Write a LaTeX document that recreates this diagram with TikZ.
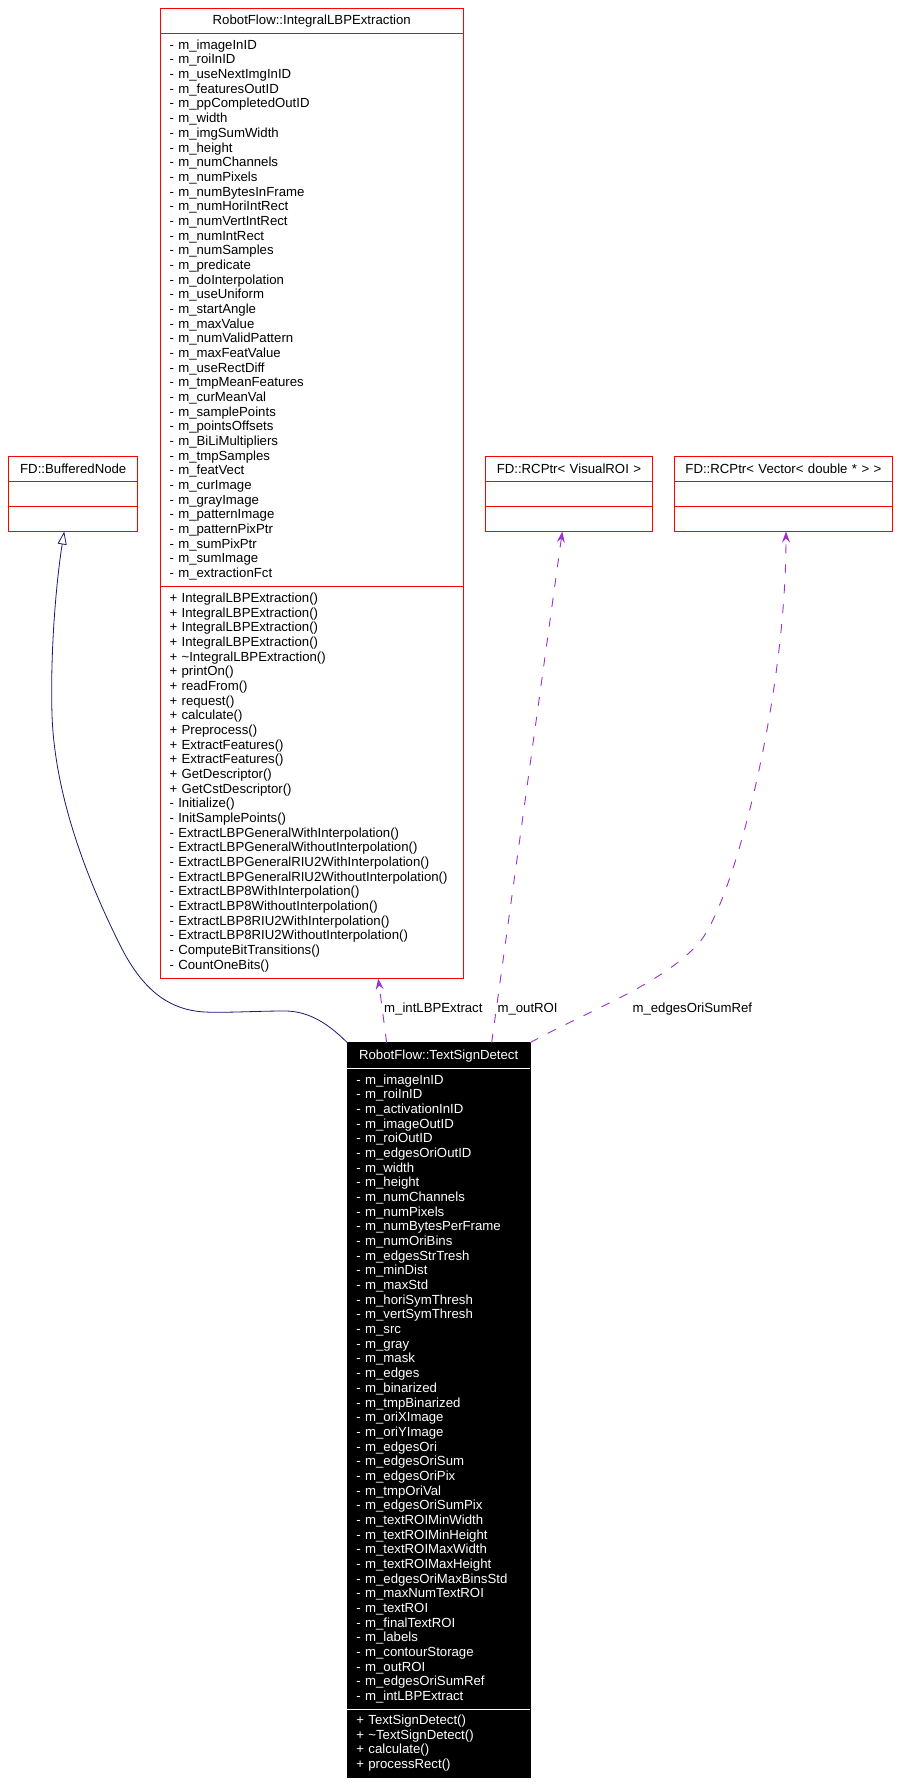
\documentclass[tikz,border=0pt]{standalone}
\usepackage{fontspec}
\setmainfont{Liberation Sans}
\usetikzlibrary{positioning,arrows.meta}
\definecolor{dep}{HTML}{9A32CD}
\definecolor{navy}{HTML}{191970}
\newcommand\umlfont{\fontsize{13.2}{14.67}\selectfont}
\begin{document}
\begin{tikzpicture}[x=1pt,y=-1pt,
	box/.style={draw=red,line width=0.8pt,fill=white,inner xsep=9pt,inner ysep=0pt,
		outer sep=0pt,text width=#1,font=\umlfont},
	hd/.style={box=#1,align=center,minimum height=25pt},
	bd/.style={box=#1,align=left},
	dk/.style={fill=black,draw=black,text=white},
	dep/.style={draw=dep,line width=0.9pt,dash pattern=on 9pt off 11pt,
		-{Stealth[length=11pt,width=8pt,inset=4pt]}},
	inh/.style={draw=navy,line width=0.8pt,
		-{Triangle[open,length=13pt,width=9pt,fill=white]}},
	lab/.style={font=\umlfont,inner sep=0pt,anchor=west}]
\path[fill=white,use as bounding box] (0,0) rectangle (911,1786);
% RobotFlow::IntegralLBPExtraction
\node[hd=284.5pt,anchor=north] (ilbp) at (311.75,8.4) {RobotFlow::IntegralLBPExtraction};
\node[bd=284.5pt,minimum height=553pt,below=0pt of ilbp] (ilbpA) {- m\_imageInID\\
	- m\_roiInID\\
	- m\_useNextImgInID\\
	- m\_featuresOutID\\
	- m\_ppCompletedOutID\\
	- m\_width\\
	- m\_imgSumWidth\\
	- m\_height\\
	- m\_numChannels\\
	- m\_numPixels\\
	- m\_numBytesInFrame\\
	- m\_numHoriIntRect\\
	- m\_numVertIntRect\\
	- m\_numIntRect\\
	- m\_numSamples\\
	- m\_predicate\\
	- m\_doInterpolation\\
	- m\_useUniform\\
	- m\_startAngle\\
	- m\_maxValue\\
	- m\_numValidPattern\\
	- m\_maxFeatValue\\
	- m\_useRectDiff\\
	- m\_tmpMeanFeatures\\
	- m\_curMeanVal\\
	- m\_samplePoints\\
	- m\_pointsOffsets\\
	- m\_BiLiMultipliers\\
	- m\_tmpSamples\\
	- m\_featVect\\
	- m\_curImage\\
	- m\_grayImage\\
	- m\_patternImage\\
	- m\_patternPixPtr\\
	- m\_sumPixPtr\\
	- m\_sumImage\\
	- m\_extractionFct};
\node[bd=284.5pt,minimum height=392.2pt,below=0pt of ilbpA] (ilbpM) {+ IntegralLBPExtraction()\\
	+ IntegralLBPExtraction()\\
	+ IntegralLBPExtraction()\\
	+ IntegralLBPExtraction()\\
	+ \textasciitilde IntegralLBPExtraction()\\
	+ printOn()\\
	+ readFrom()\\
	+ request()\\
	+ calculate()\\
	+ Preprocess()\\
	+ ExtractFeatures()\\
	+ ExtractFeatures()\\
	+ GetDescriptor()\\
	+ GetCstDescriptor()\\
	- Initialize()\\
	- InitSamplePoints()\\
	- ExtractLBPGeneralWithInterpolation()\\
	- ExtractLBPGeneralWithoutInterpolation()\\
	- ExtractLBPGeneralRIU2WithInterpolation()\\
	- ExtractLBPGeneralRIU2WithoutInterpolation()\\
	- ExtractLBP8WithInterpolation()\\
	- ExtractLBP8WithoutInterpolation()\\
	- ExtractLBP8RIU2WithInterpolation()\\
	- ExtractLBP8RIU2WithoutInterpolation()\\
	- ComputeBitTransitions()\\
	- CountOneBits()};
% the three small classes
\foreach \n/\x/\w/\t in {bn/73.25/111.1/FD::BufferedNode,
	vroi/568.9/148.8/FD::RCPtr< VisualROI >,
	vec/783.4/200/FD::RCPtr< Vector< double * > >}{
	\node[hd=\w pt,anchor=north] (\n) at (\x,456.5) {\t};
	\node[bd=\w pt,minimum height=25pt,below=0pt of \n] (\n A) {};
	\node[bd=\w pt,minimum height=25pt,below=0pt of \n A] (\n M) {};
}
% RobotFlow::TextSignDetect
\node[hd=164.7pt,dk,minimum height=26pt,anchor=north] (tsd) at (438.65,1042.7) {RobotFlow::TextSignDetect};
\node[bd=164.7pt,dk,minimum height=640.3pt,below=0pt of tsd] (tsdA) {- m\_imageInID\\
	- m\_roiInID\\
	- m\_activationInID\\
	- m\_imageOutID\\
	- m\_roiOutID\\
	- m\_edgesOriOutID\\
	- m\_width\\
	- m\_height\\
	- m\_numChannels\\
	- m\_numPixels\\
	- m\_numBytesPerFrame\\
	- m\_numOriBins\\
	- m\_edgesStrTresh\\
	- m\_minDist\\
	- m\_maxStd\\
	- m\_horiSymThresh\\
	- m\_vertSymThresh\\
	- m\_src\\
	- m\_gray\\
	- m\_mask\\
	- m\_edges\\
	- m\_binarized\\
	- m\_tmpBinarized\\
	- m\_oriXImage\\
	- m\_oriYImage\\
	- m\_edgesOri\\
	- m\_edgesOriSum\\
	- m\_edgesOriPix\\
	- m\_tmpOriVal\\
	- m\_edgesOriSumPix\\
	- m\_textROIMinWidth\\
	- m\_textROIMinHeight\\
	- m\_textROIMaxWidth\\
	- m\_textROIMaxHeight\\
	- m\_edgesOriMaxBinsStd\\
	- m\_maxNumTextROI\\
	- m\_textROI\\
	- m\_finalTextROI\\
	- m\_labels\\
	- m\_contourStorage\\
	- m\_outROI\\
	- m\_edgesOriSumRef\\
	- m\_intLBPExtract};
\node[bd=164.7pt,dk,minimum height=68.4pt,below=0pt of tsdA] (tsdM) {+ TextSignDetect()\\
	+ \textasciitilde TextSignDetect()\\
	+ calculate()\\
	+ processRect()};
\draw[white,line width=0.8pt] (tsdA.north west) -- (tsdA.north east)
	(tsdM.north west) -- (tsdM.north east);
% connectors
\draw[inh] (tsd.north west) .. controls (325,1020) and (305,1011) .. (285,1011)
	.. controls (255,1011) and (225,1013) .. (205,1012)
	.. controls (165,1010) and (140,985) .. (120,945)
	.. controls (90,885) and (55,800) .. (52,715)
	.. controls (50,640) and (58,570) .. ([xshift=-9pt]bnM.south);
\draw[dep] ([xshift=-52pt]tsd.north) -- ([xshift=66.5pt]ilbpM.south);
\draw[dep] ([xshift=53pt]tsd.north) -- ([xshift=-6.6pt]vroiM.south);
\draw[dep] (tsd.north east) .. controls (590,1010) and (660,985) .. (697.7,944.4)
	.. controls (733,906) and (786,700) .. ([xshift=2.6pt]vecM.south);
\node[lab] (l1) at (384,1009) {m\_intLBPExtract};
\node[lab] (l2) at (497.3,1009) {m\_outROI};
\node[lab] (l3) at (632.3,1009) {m\_edgesOriSumRef};
\end{tikzpicture}
\end{document}
